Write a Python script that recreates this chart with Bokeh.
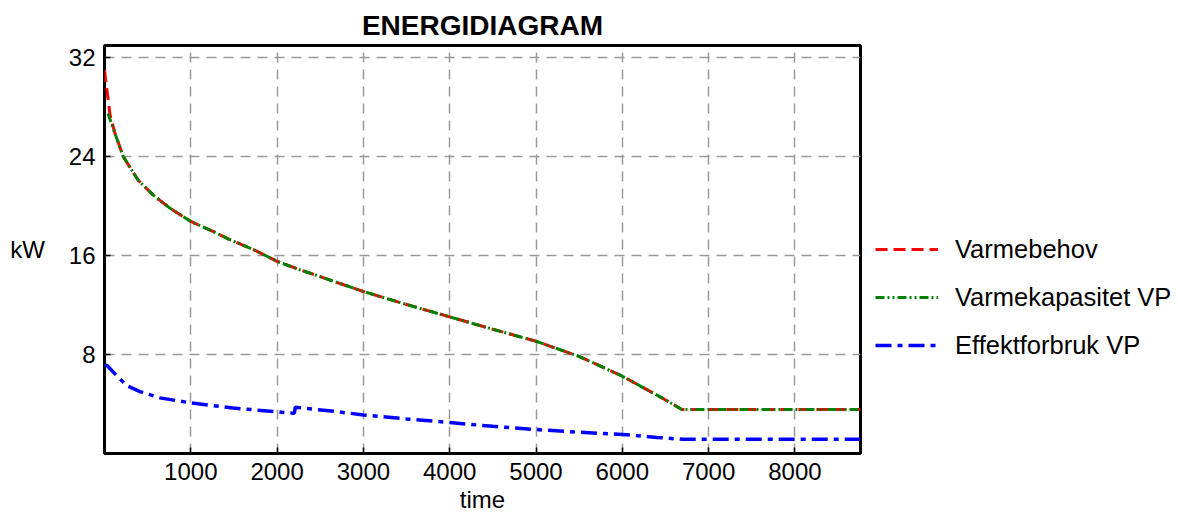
from bokeh.plotting import figure
from bokeh.models import Range1d, FixedTicker, Legend, LegendItem
from bokeh.layouts import row
from bokeh.embed import file_html
from bokeh.resources import INLINE

# ---------------- data ----------------
title_text = "ENERGIDIAGRAM"
x_label = "time"
y_label = "kW"
x_ticks = [1000, 2000, 3000, 4000, 5000, 6000, 7000, 8000]
y_ticks = [8, 16, 24, 32]

# Varmebehov (heat demand)
demand_time = [0, 30, 64, 121, 218, 391, 565, 757, 1000, 1258, 1451, 1725, 2000, 2260,
               2500, 3000, 3500, 4000, 4500, 5000, 5497, 6000, 6460, 6690, 8760]
demand_kw = [31.0, 29.3, 27.4, 25.9, 24.0, 22.1, 20.9, 19.85, 18.77, 17.96, 17.3, 16.5,
             15.54, 14.87, 14.3, 13.1, 12.05, 11.05, 10.05, 9.08, 7.86, 6.25, 4.5, 3.56, 3.56]

# Varmekapasitet VP (heat pump capacity)
capacity_time = [40, 121, 218, 391, 565, 757, 1000, 1258, 1451, 1725, 2000, 2260,
                 2500, 3000, 3500, 4000, 4500, 5000, 5497, 6000, 6460, 6690, 8760]
capacity_kw = [27.5, 25.9, 24.0, 22.1, 20.9, 19.85, 18.77, 17.96, 17.3, 16.5,
               15.54, 14.87, 14.3, 13.1, 12.05, 11.05, 10.05, 9.08, 7.86, 6.25, 4.5, 3.56, 3.56]

# Effektforbruk VP (heat pump power use)
power_time = [0, 25, 60, 141, 257, 411, 642, 1000, 1489, 1998, 2200, 2210, 2684, 3000,
              3500, 4000, 4500, 5000, 5500, 6000, 6400, 6700, 8760]
power_kw = [7.05, 7.15, 6.9, 6.3, 5.5, 5.0, 4.5, 4.09, 3.68, 3.37, 3.25, 3.74, 3.39, 3.12,
            2.8, 2.5, 2.2, 1.94, 1.72, 1.54, 1.3, 1.15, 1.15]

series_names = ["Varmebehov", "Varmekapasitet VP", "Effektforbruk VP"]
series_colors = ["#ff0000", "#008000", "#0000ff"]
series_dashes = ["12 6", "9 3 2 3 2 3", "16 6 5 6"]
series_widths = [3, 3, 3.5]

FONT = "Liberation Sans"
NAN = float("nan")

# ---------------- main plot ----------------
p = figure(width=864, height=515, output_backend="svg", toolbar_location=None,
           x_range=Range1d(0, 8760), y_range=Range1d(0, 33.0),
           min_border_left=104, min_border_right=4, min_border_top=45, min_border_bottom=61)

p.title.text = title_text
p.title.align = "center"
p.title.text_font = FONT
p.title.text_font_size = "28px"
p.title.text_font_style = "bold"
p.title.text_color = "black"

p.background_fill_color = "white"
p.border_fill_color = "white"
p.outline_line_color = "black"
p.outline_line_width = 3
p.outline_line_alpha = 1

for ax in (p.xaxis[0], p.yaxis[0]):
    ax.major_label_text_font = FONT
    ax.major_label_text_font_size = "24px"
    ax.major_label_text_color = "black"
    ax.axis_label_text_font = FONT
    ax.axis_label_text_font_size = "24px"
    ax.axis_label_text_font_style = "normal"
    ax.axis_label_text_color = "black"
    ax.major_tick_in = 6
    ax.major_tick_out = 0
    ax.minor_tick_in = 0
    ax.minor_tick_out = 0
    ax.major_tick_line_width = 1.5
    ax.major_tick_line_color = "black"
    ax.axis_line_color = None

p.xaxis[0].ticker = FixedTicker(ticks=x_ticks)
p.yaxis[0].ticker = FixedTicker(ticks=y_ticks)
p.xaxis[0].major_label_standoff = 9
p.yaxis[0].major_label_standoff = 9
p.xaxis[0].axis_label = x_label
p.xaxis[0].axis_label_standoff = 3
p.yaxis[0].axis_label = y_label
p.yaxis[0].axis_label_standoff = 21
try:
    p.yaxis[0].axis_label_orientation = "horizontal"
except Exception:
    pass

p.xgrid.ticker = FixedTicker(ticks=x_ticks)
p.ygrid.ticker = FixedTicker(ticks=y_ticks)
for g in (p.xgrid, p.ygrid):
    g.grid_line_color = "#999999"
    g.grid_line_width = 1.5
    g.grid_line_dash = "10 7"

p.line(demand_time, demand_kw, line_color=series_colors[0],
       line_width=series_widths[0], line_dash=series_dashes[0])
p.line(capacity_time, capacity_kw, line_color=series_colors[1],
       line_width=series_widths[1], line_dash=series_dashes[1])
p.line(power_time, power_kw, line_color=series_colors[2],
       line_width=series_widths[2], line_dash=series_dashes[2])

# ---------------- legend panel (right of the plot) ----------------
pl = figure(width=314, height=515, output_backend="svg", toolbar_location=None,
            x_axis_type=None, y_axis_type=None, min_border=0)
pl.outline_line_color = None
pl.background_fill_color = "white"
pl.border_fill_color = "white"

items = []
for name, c, d, w in zip(series_names, series_colors, series_dashes, series_widths):
    # legend-only proxy (a single undefined point draws nothing in the plot area)
    proxy = pl.line(x=[NAN], y=[NAN], line_color=c, line_dash=d, line_width=w)
    items.append(LegendItem(label=name, renderers=[proxy]))

legend = Legend(items=items, location=(1, 83))
legend.label_text_font = FONT
legend.label_text_font_size = "25.5px"
legend.label_text_color = "black"
legend.glyph_width = 63
legend.glyph_height = 30
legend.label_height = 30
legend.spacing = 18
legend.padding = 10
legend.margin = 0
legend.label_standoff = 17
legend.border_line_alpha = 0
legend.background_fill_alpha = 0
pl.add_layout(legend, "center")

layout = row(p, pl)
open("out.html", "w").write(file_html(layout, INLINE))
